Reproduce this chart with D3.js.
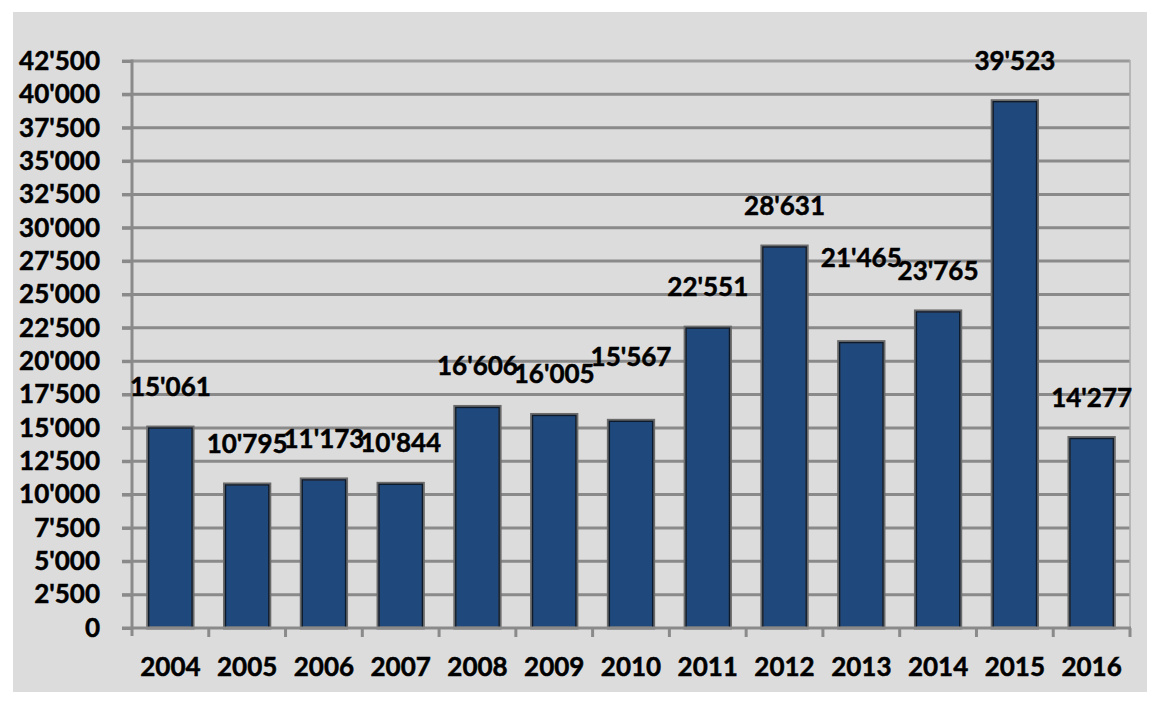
<!DOCTYPE html>
<html><head><meta charset="utf-8">
<script src="https://cdn.jsdelivr.net/npm/d3@7"></script>
<style>
html,body{margin:0;padding:0;background:#fff;}
text{font-family:Lato,"Open Sans",sans-serif;font-weight:bold;fill:#000;stroke:#000;stroke-width:0.5px;}
</style></head>
<body>
<svg id="chart" width="1157" height="703"></svg>
<script>
const years = ["2004","2005","2006","2007","2008","2009","2010","2011","2012","2013","2014","2015","2016"];
const values = [15061,10795,11173,10844,16606,16005,15567,22551,28631,21465,23765,39523,14277];
const yTicks = [0,2500,5000,7500,10000,12500,15000,17500,20000,22500,25000,27500,30000,32500,35000,37500,40000,42500];
// extra vertical lift for labels that were moved up in the original
const labelLift = [0,0,0,0,0,0,23,0,0,44,0,0,0];

const svg = d3.select("#chart");
const fmt = v => d3.format(",")(v).replace(/,/g, "'");

svg.append("rect").attr("x",13).attr("y",12).attr("width",1134).attr("height",680).attr("fill","#dcdcdc");

const x = d3.scaleBand().domain(years).range([132,1130]).paddingInner(0.41).paddingOuter(0.205);
const y = d3.scaleLinear().domain([0,42500]).range([628,61]);

// gridlines
svg.append("g").selectAll("line").data(yTicks.filter(d=>d>0)).join("line")
  .attr("x1",122).attr("x2",1130)
  .attr("y1",d=>y(d)).attr("y2",d=>y(d))
  .attr("stroke",d=>d===42500?"#9a9a9a":"#8a8a8a").attr("stroke-width",3);

// right border
svg.append("line").attr("x1",1130).attr("x2",1130).attr("y1",y(42500)-1).attr("y2",628)
  .attr("stroke","#ababab").attr("stroke-width",1.5);

// y axis
const yAxis = d3.axisLeft(y).tickValues(yTicks).tickFormat(fmt).tickSize(10).tickPadding(22);
const gy = svg.append("g").attr("transform","translate(132,0)").call(yAxis);
gy.select(".domain").attr("stroke","#8a8a8a").attr("stroke-width",3).attr("d","M0,"+(y(42500)-1.5)+"V"+(628+8));
gy.selectAll(".tick line").attr("stroke","#8a8a8a").attr("stroke-width",3);
gy.selectAll(".tick text").style("font-size","26px").attr("fill","#000");

// bars
const bars = svg.append("g");
bars.selectAll("rect.outer").data(values).join("rect").attr("class","outer")
  .attr("x",(d,i)=>x(years[i])).attr("y",d=>y(d))
  .attr("width",x.bandwidth()).attr("height",d=>628-y(d))
  .attr("fill","#1f497d").attr("stroke","#6b6b6b").attr("stroke-width",3);
bars.selectAll("rect.inner").data(values).join("rect").attr("class","inner")
  .attr("x",(d,i)=>x(years[i])+1).attr("y",d=>y(d)+1)
  .attr("width",x.bandwidth()-2).attr("height",d=>628-y(d)-1)
  .attr("fill","none").attr("stroke","#0d1a2c").attr("stroke-width",1.4);

// x axis
const xs = d3.scalePoint().domain(d3.range(14)).range([132,1130]);
const gx = svg.append("g");
gx.append("line").attr("x1",122).attr("x2",1131).attr("y1",628).attr("y2",628).attr("stroke","#8a8a8a").attr("stroke-width",3);
gx.selectAll("line.t").data(d3.range(1,14)).join("line").attr("class","t")
  .attr("x1",d=>xs(d)).attr("x2",d=>xs(d)).attr("y1",628).attr("y2",637)
  .attr("stroke","#8a8a8a").attr("stroke-width",3);
gx.selectAll("text").data(years).join("text")
  .attr("x",d=>x(d)+x.bandwidth()/2).attr("y",676)
  .attr("text-anchor","middle").style("font-size","26px").text(d=>d);

// data labels
svg.append("g").selectAll("text").data(values).join("text")
  .attr("x",(d,i)=>x(years[i])+x.bandwidth()/2)
  .attr("y",(d,i)=>y(d)-31-labelLift[i])
  .attr("text-anchor","middle").style("font-size","26px").text(d=>fmt(d));
</script>
</body></html>
